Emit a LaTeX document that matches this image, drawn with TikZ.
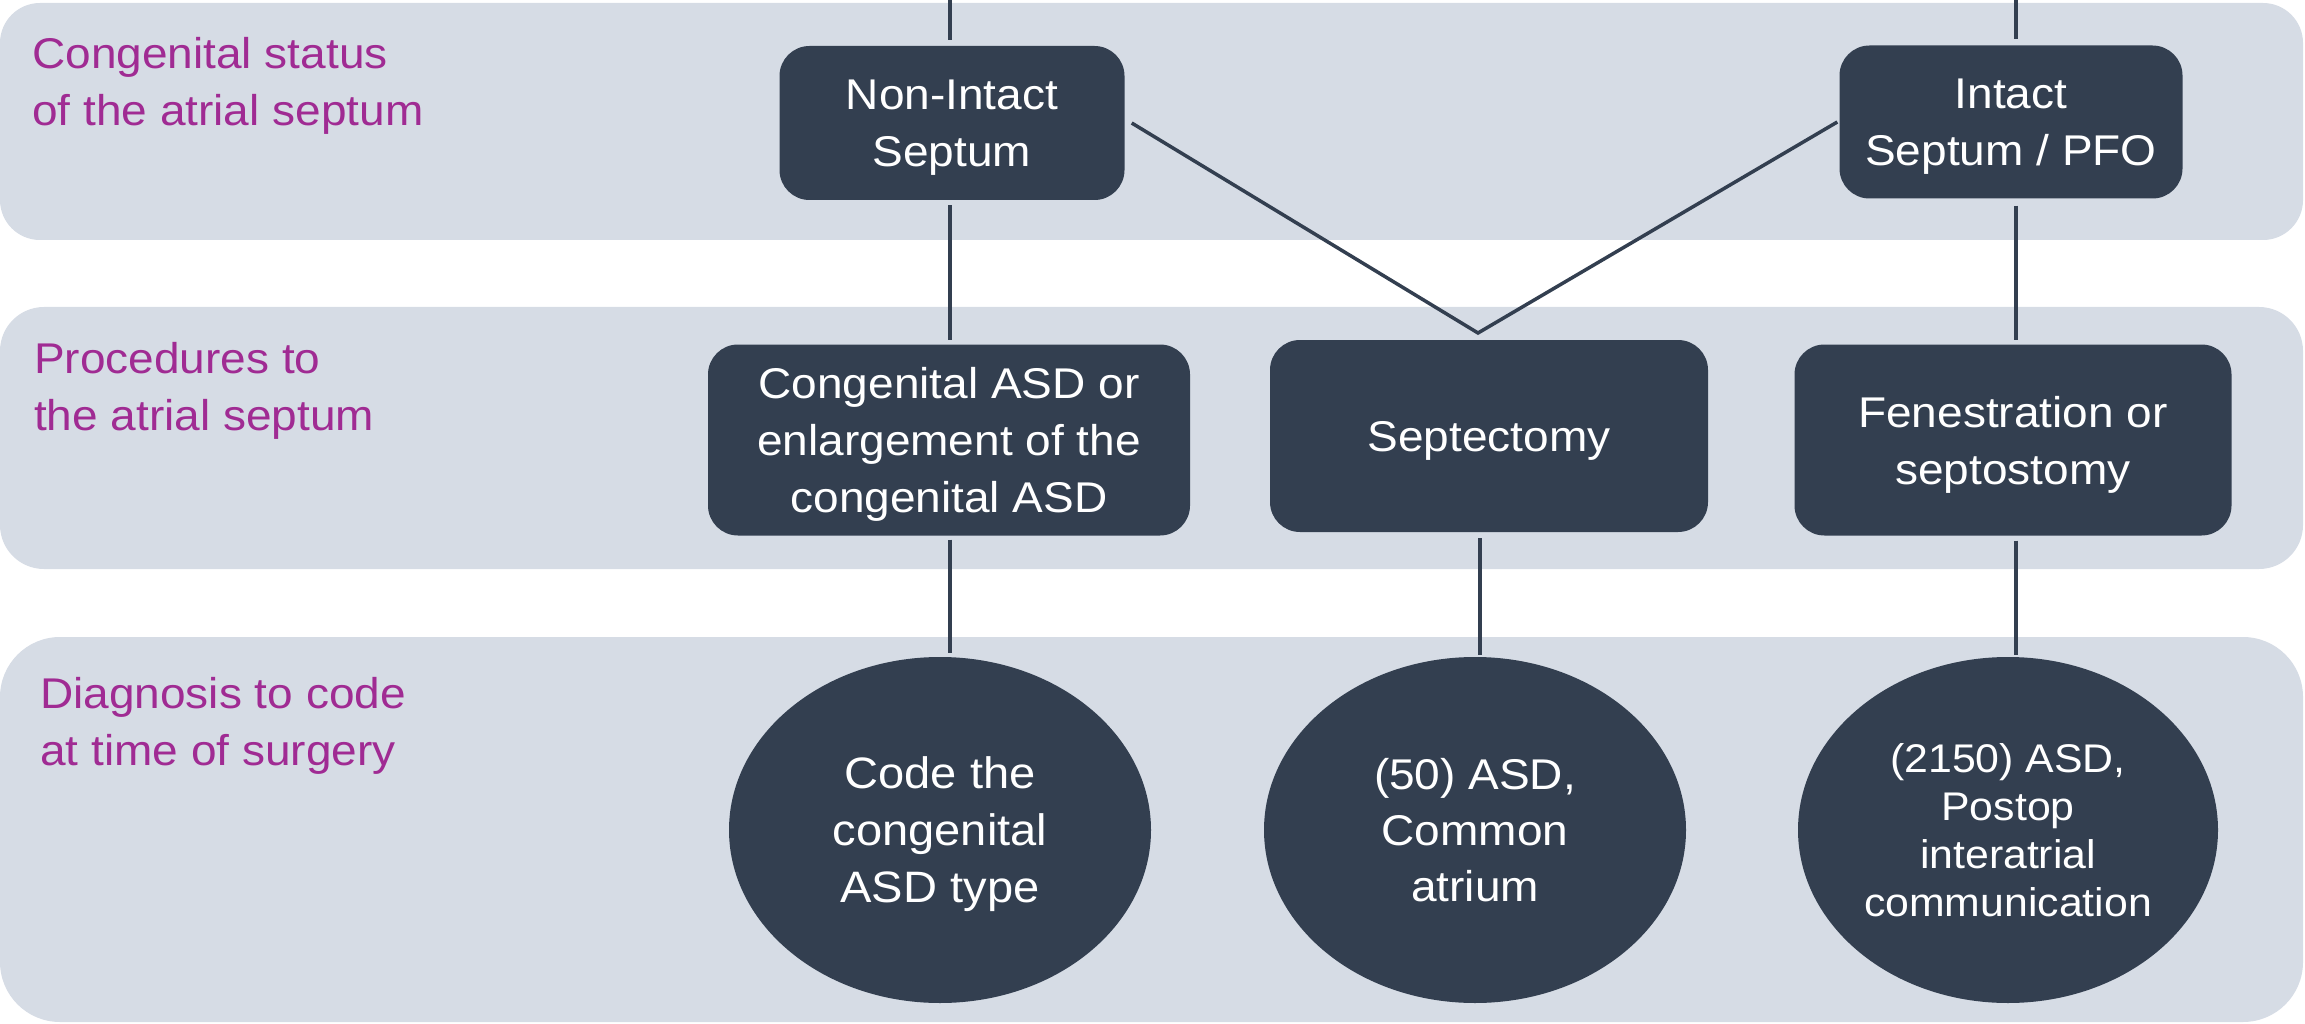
\documentclass[tikz,border=0pt]{standalone}
\usepackage{fontspec}
\setmainfont{Liberation Sans}[FakeStretch=1.07]
\usetikzlibrary{shapes.geometric}
\definecolor{bandc}{HTML}{D6DCE5}
\definecolor{navy}{HTML}{333F50}
\definecolor{lbl}{HTML}{A02B93}
\begin{document}
\begin{tikzpicture}[x=1pt,y=-1pt,
  box/.style={fill=navy, draw=none, rounded corners=30pt, text=white, align=center,
    font=\fontsize{43}{57}\selectfont, inner sep=0pt, text depth=-2pt},
  oval/.style={ellipse, fill=navy, draw=none, text=white, align=center, inner sep=0pt,
    minimum width=422pt, minimum height=346pt, text depth=0pt},
  lab/.style={text=lbl, align=left, anchor=north west, inner sep=0pt,
    font=\fontsize{43}{57}\selectfont},
  conn/.style={draw=navy, line width=3.5pt}]
\useasboundingbox (0,0) rectangle (2305,1024);
% bands
\fill[bandc, rounded corners=40pt] (0,3) rectangle (2303,240);
\fill[bandc, rounded corners=44pt] (0,307) rectangle (2303,569);
\fill[bandc, rounded corners=60pt] (0,637) rectangle (2303,1022);
% labels
\node[lab] (l1) at (32,37) {Congenital status\\of the atrial septum};
\node[lab] (l2) at (34,342) {Procedures to\\the atrial septum};
\node[lab] (l3) at (40,677) {Diagnosis to code\\at time of surgery};
% row 1
\node[box, minimum width=345pt, minimum height=154pt] (ni) at (952,123) {Non-Intact\\Septum};
\node[box, minimum width=343pt, minimum height=153pt] (in) at (2011,122) {Intact\\Septum / PFO};
% row 2
\node[box, minimum width=482pt, minimum height=191pt] (ca) at (949,440) {Congenital ASD or\\enlargement of the\\congenital ASD};
\node[box, minimum width=438pt, minimum height=192pt] (se) at (1489,436) {Septectomy};
\node[box, minimum width=437pt, minimum height=191pt] (fe) at (2013,440) {Fenestration or\\septostomy};
% row 3
\node[oval, font=\fontsize{44}{57}\selectfont] (e1) at (940,830) {Code the\\congenital\\ASD type};
\node[oval, font=\fontsize{43}{56}\selectfont] (e2) at (1475,830) {(50) ASD,\\Common\\atrium};
\node[oval, font=\fontsize{40}{48}\selectfont, minimum width=420pt] (e3) at (2008,830) {(2150) ASD,\\Postop\\interatrial\\communication};
% connectors
\coordinate (t1) at (950,0);
\coordinate (t2) at (2016,0);
\coordinate (t3) at (1480,0);
\coordinate (v) at (1478,333);
\draw[conn] (t1) -- ([yshift=6pt]t1 |- ni.north);
\draw[conn] (t2) -- ([yshift=6pt]t2 |- in.north);
\draw[conn] ([yshift=-5pt]t1 |- ni.south) -- ([yshift=4pt]t1 |- ca.north);
\draw[conn] ([xshift=7pt]ni.east) -- (v) -- ([xshift=-2pt]in.west);
\draw[conn] ([yshift=-7pt]t2 |- in.south) -- ([yshift=4pt]t2 |- fe.north);
\draw[conn] ([yshift=-4pt]t1 |- ca.south) -- ([yshift=4pt]t1 |- e1.north);
\draw[conn] ([yshift=-6pt]t3 |- se.south) -- ([yshift=2pt]t3 |- e2.north);
\draw[conn] ([yshift=-5pt]t2 |- fe.south) -- ([yshift=2pt]t2 |- e3.north);
\end{tikzpicture}
\end{document}
